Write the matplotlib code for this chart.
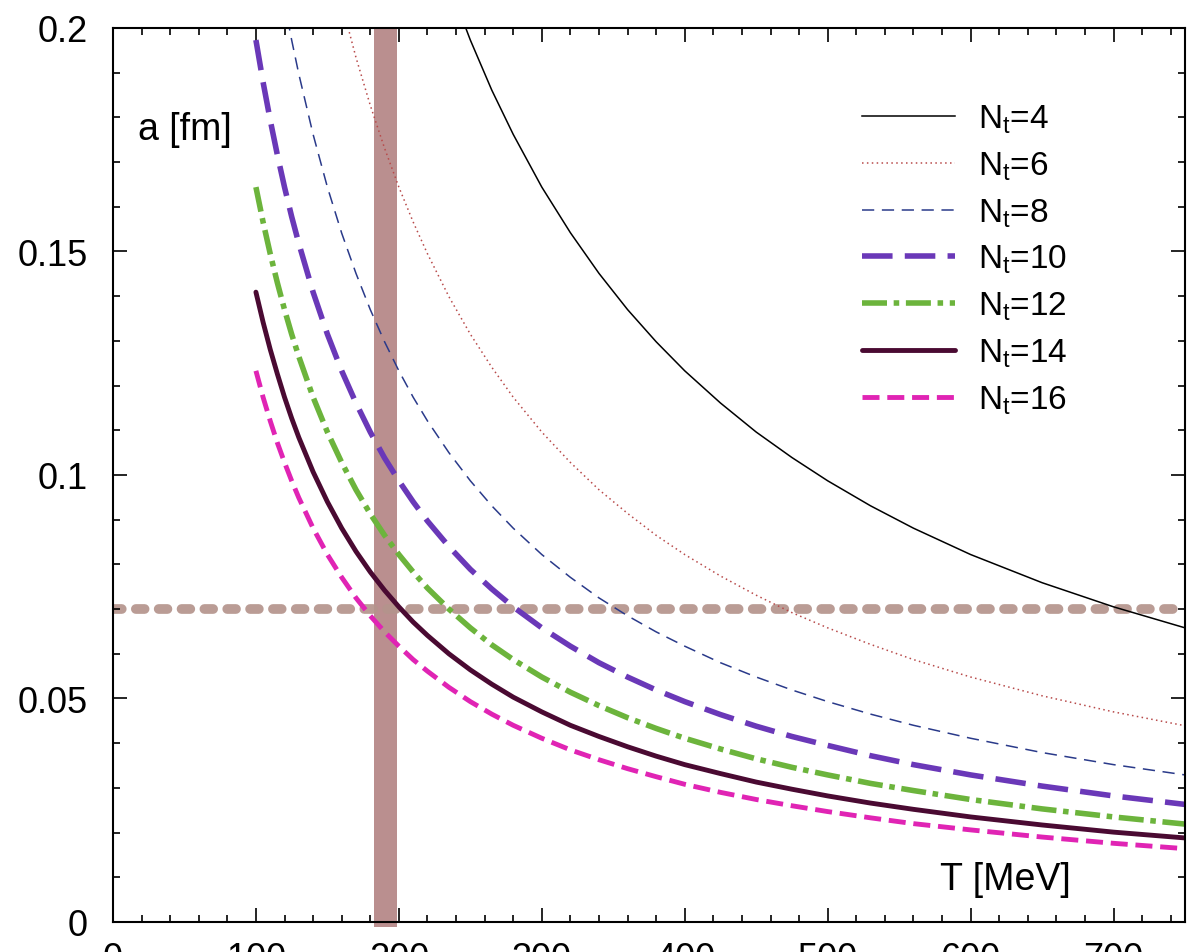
import numpy as np
import matplotlib
matplotlib.use('Agg')
import matplotlib.pyplot as plt
from matplotlib.ticker import MultipleLocator

plt.rcParams['font.family'] = ['Liberation Sans', 'DejaVu Sans']
plt.rcParams['mathtext.default'] = 'regular'

# temperature samples [MeV]
T = [100, 105, 110, 115, 120, 125, 130, 140, 150, 160, 170, 180, 190, 200, 210, 220, 235, 250,
     265, 280, 300, 320, 340, 360, 380, 400, 425, 450, 475, 500, 530, 560, 600, 650, 700, 750]

# lattice spacing a [fm]
a_nt4 = [0.4933, 0.4698, 0.4484, 0.4289, 0.4111, 0.3946, 0.3794, 0.3523, 0.3288, 0.3083, 0.2902, 0.2740,
         0.2596, 0.2466, 0.2349, 0.2242, 0.2099, 0.1973, 0.1861, 0.1762, 0.1644, 0.1542, 0.1451, 0.1370,
         0.1298, 0.1233, 0.1161, 0.1096, 0.1039, 0.0987, 0.0931, 0.0881, 0.0822, 0.0759, 0.0705, 0.0658]
a_nt6 = [0.3288, 0.3132, 0.2989, 0.2860, 0.2740, 0.2631, 0.2530, 0.2349, 0.2192, 0.2055, 0.1934, 0.1827,
         0.1731, 0.1644, 0.1566, 0.1495, 0.1399, 0.1315, 0.1241, 0.1174, 0.1096, 0.1028, 0.0967, 0.0914,
         0.0865, 0.0822, 0.0774, 0.0731, 0.0692, 0.0658, 0.0621, 0.0587, 0.0548, 0.0506, 0.0470, 0.0439]
a_nt8 = [0.2466, 0.2349, 0.2242, 0.2145, 0.2055, 0.1973, 0.1897, 0.1762, 0.1644, 0.1541, 0.1451, 0.1370,
         0.1298, 0.1233, 0.1174, 0.1121, 0.1050, 0.0987, 0.0931, 0.0881, 0.0822, 0.0771, 0.0725, 0.0685,
         0.0649, 0.0617, 0.0580, 0.0548, 0.0519, 0.0493, 0.0465, 0.0440, 0.0411, 0.0379, 0.0352, 0.0329]
a_nt10 = [0.1973, 0.1879, 0.1794, 0.1716, 0.1644, 0.1578, 0.1518, 0.1409, 0.1315, 0.1233, 0.1161, 0.1096,
          0.1038, 0.0987, 0.0940, 0.0897, 0.0840, 0.0789, 0.0745, 0.0705, 0.0658, 0.0617, 0.0580, 0.0548,
          0.0519, 0.0493, 0.0464, 0.0438, 0.0415, 0.0395, 0.0372, 0.0352, 0.0329, 0.0304, 0.0282, 0.0263]
a_nt12 = [0.1644, 0.1566, 0.1495, 0.1430, 0.1370, 0.1315, 0.1265, 0.1174, 0.1096, 0.1028, 0.0967, 0.0913,
          0.0865, 0.0822, 0.0783, 0.0747, 0.0700, 0.0658, 0.0620, 0.0587, 0.0548, 0.0514, 0.0484, 0.0457,
          0.0433, 0.0411, 0.0387, 0.0365, 0.0346, 0.0329, 0.0310, 0.0294, 0.0274, 0.0253, 0.0235, 0.0219]
a_nt14 = [0.1409, 0.1342, 0.1281, 0.1226, 0.1174, 0.1127, 0.1084, 0.1007, 0.0940, 0.0881, 0.0829, 0.0783,
          0.0742, 0.0705, 0.0671, 0.0641, 0.0600, 0.0564, 0.0532, 0.0503, 0.0470, 0.0440, 0.0415, 0.0392,
          0.0371, 0.0352, 0.0332, 0.0313, 0.0297, 0.0282, 0.0266, 0.0252, 0.0235, 0.0217, 0.0201, 0.0188]
a_nt16 = [0.1233, 0.1174, 0.1121, 0.1072, 0.1028, 0.0987, 0.0949, 0.0881, 0.0822, 0.0771, 0.0725, 0.0685,
          0.0649, 0.0617, 0.0587, 0.0561, 0.0525, 0.0493, 0.0465, 0.0440, 0.0411, 0.0385, 0.0363, 0.0343,
          0.0325, 0.0308, 0.0290, 0.0274, 0.0260, 0.0247, 0.0233, 0.0220, 0.0206, 0.0190, 0.0176, 0.0164]

labels = ['N$_t$=4', 'N$_t$=6', 'N$_t$=8', 'N$_t$=10', 'N$_t$=12', 'N$_t$=14', 'N$_t$=16']

# highlighted region
Tc_band = (182.5, 198.5)
a_line = 0.07

fig = plt.figure(figsize=(11.88, 9.53), dpi=100)
ax = fig.add_axes([0.0951, 0.0315, 0.9024, 0.9381])

ax.plot(T, a_nt4, color='black', lw=1.1, label=labels[0])
ax.plot(T, a_nt6, color='#b84a4a', lw=1.1, dashes=(1, 2.2), label=labels[1])
ax.plot(T, a_nt8, color='#2a3a8a', lw=1.1, dashes=(8, 5), label=labels[2])
ax.plot(T, a_nt10, color='#6a38b8', lw=4, dashes=(5.5, 2.2), label=labels[3])
ax.plot(T, a_nt12, color='#6cb43c', lw=4, dashes=(4.5, 1.2, 1, 1.2), label=labels[4])
ax.plot(T, a_nt14, color='#4a0a32', lw=3.5, solid_capstyle='round', label=labels[5])
ax.plot(T, a_nt16, color='#e024b4', lw=3.5, dashes=(3.5, 1.6), label=labels[6])

ax.axvspan(Tc_band[0], Tc_band[1], ymin=-0.006, color='#b48686', alpha=0.92, lw=0,
           zorder=1.5, clip_on=False)
ax.axhline(a_line, color='#b4948c', lw=7, dashes=(0.9, 1.45),
           dash_capstyle='round', alpha=0.92, zorder=1.5)

ax.set_xlim(0, 750)
ax.set_ylim(0, 0.2)
ax.xaxis.set_major_locator(MultipleLocator(100))
ax.xaxis.set_minor_locator(MultipleLocator(20))
ax.yaxis.set_minor_locator(MultipleLocator(0.01))
ax.set_yticks([0, 0.05, 0.1, 0.15, 0.2])
ax.set_yticklabels(['0', '0.05', '0.1', '0.15', '0.2'])
ax.tick_params(which='both', direction='in', top=True, right=True, width=1.2)
ax.tick_params(which='major', length=10, labelsize=26)
ax.tick_params(which='minor', length=5)
ax.tick_params(axis='y', pad=18)
ax.tick_params(axis='x', pad=13.5)
for s in ax.spines.values():
    s.set_linewidth(1.5)

ax.text(0.0233, 0.8758, 'a [fm]', transform=ax.transAxes, fontsize=27, va='baseline', ha='left')
ax.text(0.893, 0.0369, 'T [MeV]', transform=ax.transAxes, fontsize=27, va='baseline', ha='right')

ax.legend(loc='upper left', bbox_to_anchor=(0.7256, 0.891), bbox_transform=fig.transFigure,
          frameon=False, fontsize=24, handlelength=2.8, handletextpad=0.67,
          labelspacing=0.43, borderpad=0, borderaxespad=0)

plt.savefig('out.png', dpi=100)
